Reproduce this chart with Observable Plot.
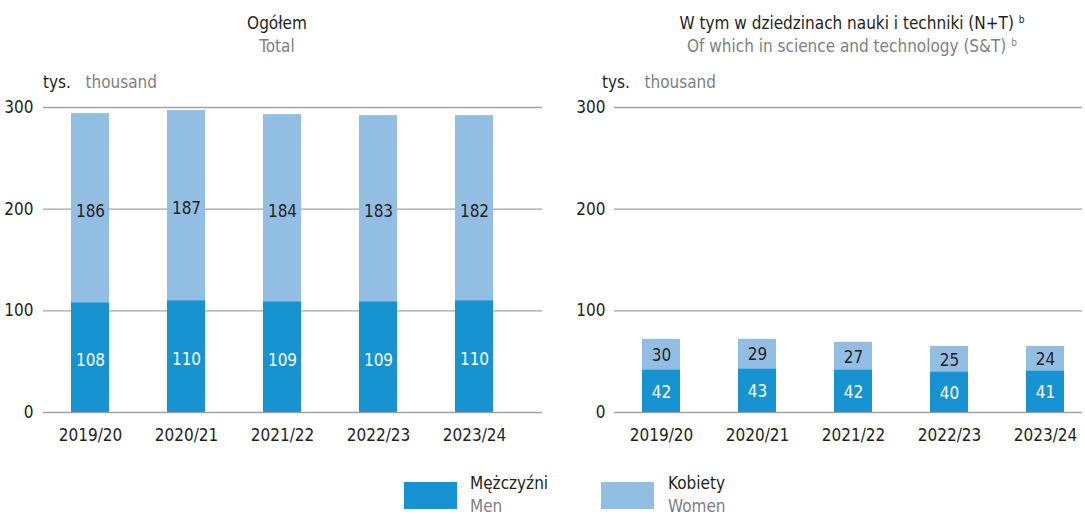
<!DOCTYPE html>
<html>
<head>
<meta charset="utf-8">
<script src="https://cdn.jsdelivr.net/npm/d3@7"></script>
<script src="https://cdn.jsdelivr.net/npm/@observablehq/plot@0.6"></script>
<style>
  html, body { margin: 0; padding: 0; background: #fff; }
  #wrap { position: relative; width: 1085px; height: 515px; overflow: hidden;
    font-family: 'Liberation Sans Narrow', 'Arial Narrow', 'DejaVu Sans Condensed', sans-serif;
    font-size: 17px; color: #231f20; }
  .abs { position: absolute; white-space: nowrap; line-height: 23px; }
  .c { transform: translateX(-50%); text-align: center; }
  .en { color: #7f7f7f; }
  sup { font-size: 10px; line-height: 0; vertical-align: 6px; }
  .sw { position: absolute; width: 53px; height: 27px; }
  #left, #right { position: absolute; top: 0; }
</style>
</head>
<body>
<div id="wrap">
  <div class="abs c" style="left:277px; top:12px;">Ogółem<br><span class="en">Total</span></div>
  <div class="abs c" style="left:852px; top:12px;">W tym w dziedzinach nauki i techniki (N+T) <sup>b</sup><br><span class="en">Of which in science and technology (S&amp;T) <sup>b</sup></span></div>
  <div class="abs" style="left:43px; top:71px;">tys.&nbsp;&nbsp;&nbsp;<span class="en">thousand</span></div>
  <div class="abs" style="left:602px; top:71px;">tys.&nbsp;&nbsp;&nbsp;<span class="en">thousand</span></div>
  <div id="left"></div>
  <div id="right"></div>
  <div class="sw" id="swM" style="left:404px; top:482px;"></div>
  <div class="abs" style="left:470px; top:472px;">Mężczyźni<br><span class="en">Men</span></div>
  <div class="sw" id="swW" style="left:601px; top:482px;"></div>
  <div class="abs" style="left:668px; top:472px;">Kobiety<br><span class="en">Women</span></div>
</div>
<script>
const years = ["2019/20", "2020/21", "2021/22", "2022/23", "2023/24"];
const totalMen = [108, 110, 109, 109, 110];
const totalWomen = [186, 187, 184, 183, 182];
const stMen = [42, 43, 42, 40, 41];
const stWomen = [30, 29, 27, 25, 24];
const yTicks = [0, 100, 200, 300];
const series = ["Mężczyźni", "Kobiety"];
const colors = ["#1793d1", "#93bee3"];

document.getElementById("swM").style.background = colors[0];
document.getElementById("swW").style.background = colors[1];

function rows(men, women) {
  const r = [];
  years.forEach((y, i) => r.push({year: y, sex: series[0], value: men[i]}));
  years.forEach((y, i) => r.push({year: y, sex: series[1], value: women[i]}));
  return r;
}

function panel(data, opts) {
  return Plot.plot({
    width: opts.width,
    height: 450,
    marginLeft: opts.marginLeft,
    marginRight: opts.marginRight,
    marginTop: 107,
    marginBottom: 38,
    style: {
      fontFamily: "'Liberation Sans Narrow', 'Arial Narrow', 'DejaVu Sans Condensed', sans-serif",
      fontSize: "17px",
      color: "#231f20",
      background: "transparent",
      overflow: "visible"
    },
    x: {domain: years, range: opts.xRange, paddingInner: 0.6, paddingOuter: 0.3, label: null,
        tickSize: 0, tickPadding: 16},
    y: {domain: [0, 300], ticks: yTicks, label: null, tickSize: 0, tickPadding: opts.yPad},
    color: {domain: series, range: colors},
    marks: [
      Plot.ruleY(yTicks, {stroke: "#a3a3a3", strokeWidth: 1.3}),
      Plot.barY(data, Plot.stackY({x: "year", y: "value", fill: "sex", order: null})),
      Plot.textY(data, Plot.stackY({x: "year", y: "value", z: "sex", order: null,
        text: d => d.sex === series[0] ? String(d.value) : "",
        fill: "white", fontSize: 17, dy: opts.dy})),
      Plot.textY(data, Plot.stackY({x: "year", y: "value", z: "sex", order: null,
        text: d => d.sex === series[1] ? String(d.value) : "",
        fill: "#231f20", fontSize: 17, dy: opts.dy}))
    ]
  });
}

document.getElementById("left").append(panel(rows(totalMen, totalWomen), {
  width: 560, marginLeft: 43, marginRight: 18, xRange: [42.5, 522.5], yPad: 10, dy: 3
}));
const rightEl = document.getElementById("right");
rightEl.style.left = "560px";
rightEl.append(panel(rows(stMen, stWomen), {
  width: 525, marginLeft: 54, marginRight: 3, xRange: [53, 533], yPad: 9, dy: 1
}));
</script>
</body>
</html>
